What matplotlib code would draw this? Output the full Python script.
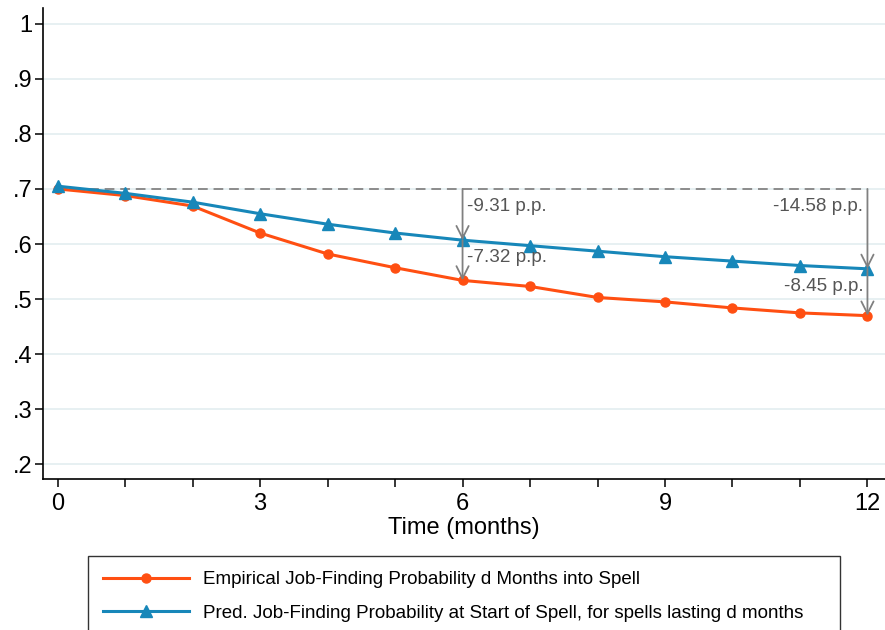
import matplotlib
matplotlib.use('Agg')
import matplotlib.pyplot as plt
from matplotlib.ticker import FixedLocator

plt.rcParams['font.family'] = ['Liberation Sans', 'DejaVu Sans']

months = list(range(13))
empirical = [0.700, 0.688, 0.669, 0.620, 0.582, 0.557, 0.534,
             0.523, 0.503, 0.495, 0.484, 0.475, 0.470]
predicted = [0.705, 0.692, 0.676, 0.655, 0.636, 0.620, 0.607,
             0.597, 0.587, 0.577, 0.569, 0.561, 0.555]
baseline = 0.7

# arrow annotations: (month, label to baseline, label between the two series)
gap_months = [6, 12]
gap_top_labels = ['-9.31 p.p.', '-14.58 p.p.']
gap_bottom_labels = ['-7.32 p.p.', '-8.45 p.p.']

yticks = [0.2, 0.3, 0.4, 0.5, 0.6, 0.7, 0.8, 0.9, 1.0]
ytick_labels = ['.2', '.3', '.4', '.5', '.6', '.7', '.8', '.9', '1']
xticks = [0, 3, 6, 9, 12]

orange = '#ff4f12'
blue = '#1787b9'
grey = '#808080'
text_grey = '#555555'

fig = plt.figure(figsize=(8.85, 6.3), dpi=100)
ax = fig.add_axes([0.0482, 0.2392, 0.9518, 0.7478])

ax.set_xlim(-0.222, 12.26)
ax.set_ylim(0.173, 1.028)

for y in yticks:
    ax.axhline(y, color='#e3edf0', lw=1.2, zorder=0)

ax.plot([months[0], months[-1]], [baseline, baseline], color='#8c8c8c',
        lw=1.4, dashes=(5, 3), zorder=1)

l1, = ax.plot(months, empirical, color=orange, lw=2.2, marker='o',
              markersize=6.5, label='Empirical Job-Finding Probability d Months into Spell',
              zorder=3)
l2, = ax.plot(months, predicted, color=blue, lw=2.2, marker='^',
              markersize=8, label='Pred. Job-Finding Probability at Start of Spell, for spells lasting d months',
              zorder=3)

arrow = dict(arrowstyle='->', color=grey, lw=1.3, shrinkA=0, shrinkB=0,
             mutation_scale=22)
for k, m in enumerate(gap_months):
    ax.annotate('', xy=(m, predicted[m]), xytext=(m, baseline),
                arrowprops=arrow, zorder=4)
    ax.annotate('', xy=(m, empirical[m]), xytext=(m, predicted[m]),
                arrowprops=arrow, zorder=4)
    if m == gap_months[-1]:
        dx, ha = -3, 'right'
    else:
        dx, ha = 3.5, 'left'
    ax.annotate(gap_top_labels[k], xy=(m, baseline), xytext=(dx, -12.5),
                textcoords='offset points', ha=ha, va='center',
                fontsize=13.6, color=text_grey)
    ax.annotate(gap_bottom_labels[k], xy=(m, predicted[m]), xytext=(dx, -12.5),
                textcoords='offset points', ha=ha, va='center',
                fontsize=13.6, color=text_grey)

ax.spines['top'].set_visible(False)
ax.spines['right'].set_visible(False)
ax.spines['left'].set_linewidth(1.2)
ax.spines['bottom'].set_linewidth(1.2)

ax.set_yticks(yticks)
ax.set_yticklabels(ytick_labels)
ax.set_xticks(xticks)
ax.xaxis.set_minor_locator(FixedLocator([m for m in months if m not in xticks]))
ax.tick_params(axis='both', which='both', direction='out', length=6,
               width=1.1, color='black', labelsize=17)
ax.tick_params(axis='y', pad=1.5)
ax.tick_params(axis='x', pad=4)
ax.set_xlabel('Time (months)', fontsize=17, labelpad=1)

leg = fig.legend(handles=[l1, l2], loc='upper left',
                 bbox_to_anchor=(88 / 885, 1 - 556 / 630, 752 / 885, 0.0),
                 mode='expand', fontsize=13.5, frameon=True, fancybox=False,
                 edgecolor='black', handlelength=4.6, handletextpad=0.75,
                 borderpad=0.8, labelspacing=0.88, borderaxespad=0)
leg.get_frame().set_linewidth(1.0)

fig.savefig('out.png', dpi=100)
